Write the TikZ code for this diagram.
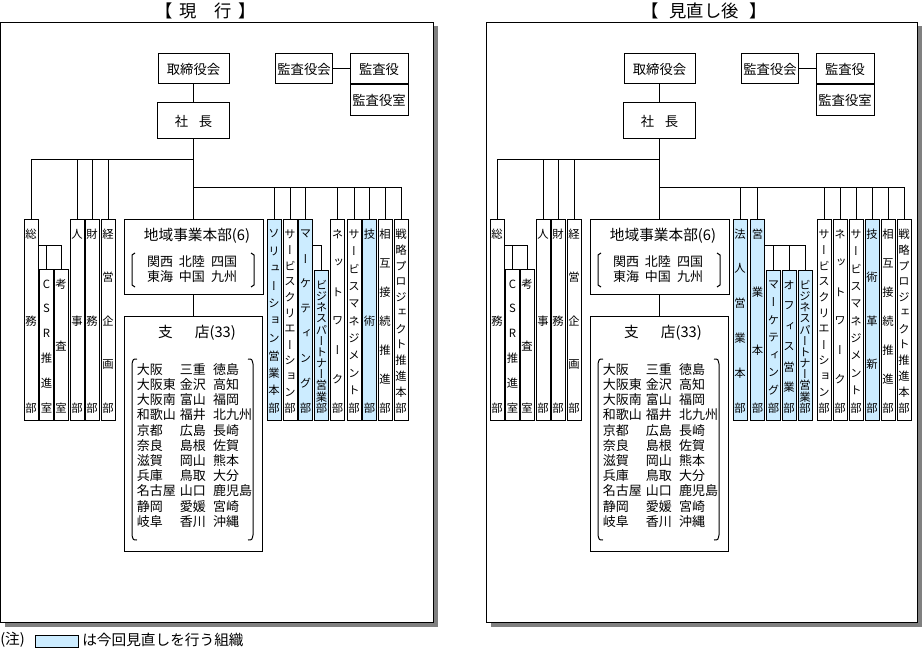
\documentclass[tikz,border=0pt]{standalone}
\usepackage{fontspec}
\newfontfamily\jpfont{Noto Sans CJK JP}
\newfontfamily\tatefont[RawFeature=+vert]{Noto Sans CJK JP}
\usetikzlibrary{positioning,calc,shadows}
\definecolor{revBlue}{HTML}{CCECFF}
\definecolor{shadowGrey}{HTML}{808080}
\tikzset{
  sz/.style 2 args={minimum width=#1*0.75pt, minimum height=#2*0.75pt},
  link/.style={draw=black, line width=0.75pt},
  panel/.style={draw=black, fill=white, line width=0.75pt, inner sep=0pt,
              drop shadow={shadow xshift=3pt, shadow yshift=-3pt, fill=shadowGrey, opacity=1}},
  orgbox/.style={draw=black, fill=white, line width=0.75pt, inner sep=0pt,
              font=\jpfont\fontsize{10}{12}\selectfont},
  tatebox/.style={draw=black, fill=white, line width=0.75pt, inner sep=0pt,
              minimum width=14*0.75pt},
  revbox/.style={tatebox, fill=revBlue},
  tatechar/.style={inner sep=0pt, font=\tatefont\fontsize{8.5}{9}\selectfont},
  title/.style={font=\jpfont\fontsize{13}{15}\selectfont},
  head/.style={inner sep=0pt, font=\jpfont\fontsize{11}{13}\selectfont},
  list/.style={inner sep=0pt, font=\jpfont\fontsize{9.75}{10.65}\selectfont},
  bracket/.style={draw=black, line width=0.75pt},
  note/.style={anchor=west, inner sep=0pt, font=\jpfont\fontsize{11}{13}\selectfont},
}
% vertical box: name, x, top, bottom, style, characters
\newcommand{\tate}[6]{%
  \node[#5, minimum height={(#4-#3)*0.75pt}] (#1) at (#2,{(#3+#4)/2}) {};
  \foreach \c [count=\n] in {#6} {\global\let\tatecount\n}
  \foreach \c [count=\i] in {#6}
    \node[tatechar] (#1-\i) at (#2,{#3+14+(\i-1)*(#4-#3-26)/(\tatecount-1)}) {\c};
}
% part shared by both panels
\newcommand{\honsha}[1]{%
  \node[orgbox, sz={71}{30}] (tor#1) at (193.5,69) {取締役会};
  \node[orgbox, sz={72}{36}] (sha#1) at (193.5,121) {社\hspace{0.8em}長};
  \node[orgbox, sz={57}{30}] (kansakai#1) at (304,69) {監査役会};
  \node[orgbox, sz={58}{30}] (kansayaku#1) at (379,69) {監査役};
  \node[orgbox, sz={58}{31}, anchor=north] (kansashitsu#1) at (kansayaku#1.south) {監査役室};
  \draw[link] (tor#1) -- (sha#1);
  \draw[link] (kansakai#1) -- (kansayaku#1);
  % regional HQ
  \node[orgbox, sz={139}{75}] (chiiki#1) at (193.5,257.5) {};
  \node[head] (chiikiT#1) at (197,236) {地域事業本部(6)};
  \node[list] (chiikiN#1) at (192,270.5) {\begin{tabular}{@{}l@{\hspace{4.5pt}}l@{\hspace{4.5pt}}l@{}}
      関西 & 北陸 & 四国\\ 東海 & 中国 & 九州\end{tabular}};
  \draw[bracket] (135,253) -- (132,255) -- (132,285) -- (135,287);
  \draw[bracket] (251,253) -- (254,255) -- (254,285) -- (251,287);
  % branches
  \node[orgbox, sz={138}{234}] (shiten#1) at (193.5,434) {};
  \node[head] (shitenT#1) at (197,333) {支\hspace{1.5em}店(33)};
  \node[list] (shitenN#1) at (194.5,447) {\begin{tabular}{@{}l@{\hspace{3pt}}l@{\hspace{5.5pt}}l@{}}
      大阪 & 三重 & 徳島\\ 大阪東 & 金沢 & 高知\\ 大阪南 & 富山 & 福岡\\
      和歌山 & 福井 & 北九州\\ 京都 & 広島 & 長崎\\ 奈良 & 島根 & 佐賀\\
      滋賀 & 岡山 & 熊本\\ 兵庫 & 鳥取 & 大分\\ 名古屋 & 山口 & 鹿児島\\
      静岡 & 愛媛 & 宮崎\\ 岐阜 & 香川 & 沖縄\end{tabular}};
  \draw[bracket] (137,359) .. controls (133,359) .. (132,364) -- (132,535) .. controls (133,540) .. (137,540);
  \draw[bracket] (248,359) .. controls (252,359) .. (253,364) -- (253,535) .. controls (252,540) .. (248,540);
  \draw[link] (sha#1) -- (chiiki#1);
  \draw[link] (chiiki#1) -- (shiten#1);
  % staff departments
  \tate{soumu#1}{31}{220}{420}{tatebox}{総,務,部}
  \tate{csr#1}{46.5}{270}{420}{tatebox}{C,S,R,推,進,室}
  \tate{kousa#1}{61}{270}{420}{tatebox}{考,査,室}
  \tate{jinji#1}{77}{220}{420}{tatebox}{人,事,部}
  \tate{zaimu#1}{92}{220}{420}{tatebox}{財,務,部}
  \tate{keiei#1}{108}{220}{420}{tatebox}{経,営,企,画,部}
  \coordinate (bar#1) at (193.5,160);
  \coordinate (bar2#1) at (193.5,188);
  \coordinate (fork#1) at (0,246);
  \draw[link] (soumu#1.north) |- (bar#1);
  \foreach \b in {jinji,zaimu,keiei} \draw[link] (\b#1.north) -- (\b#1.north |- bar#1);
  \draw[link] (soumu#1.east |- fork#1) -| (kousa#1.north);
  \draw[link] (csr#1.north) -- (csr#1.north |- fork#1);
}

\begin{document}
\begin{tikzpicture}[x=0.75pt, y=-0.75pt, font=\jpfont]
  \useasboundingbox (0,0) rectangle (922,649);

  \node[panel, sz={433}{600}, anchor=north west] (panelL) at (0,22) {};
  \node[panel, sz={431}{600}, anchor=north west] (panelR) at (486,22) {};
  \node[title] (titleL) at (206,11) {【\hspace{0.4em}現\hspace{1em}行\hspace{0.4em}】};
  \node[title] (titleR) at (704,11) {【\hspace{0.6em}見直し後\hspace{0.6em}】};

  % current organisation
  \honsha{L}
  \tate{solL}{274}{220}{420}{revbox}{ソ,リ,ュ,ー,シ,ョ,ン,営,業,本,部}
  \tate{screL}{290}{220}{420}{tatebox}{サ,ー,ビ,ス,ク,リ,エ,ー,シ,ョ,ン,部}
  \tate{mktL}{305.5}{220}{420}{revbox}{マ,ー,ケ,テ,ィ,ン,グ,部}
  \tate{bpL}{321.5}{271}{420}{revbox}{ビ,ジ,ネ,ス,パ,ー,ト,ナ,ー,営,業,部}
  \tate{netL}{337.5}{220}{420}{tatebox}{ネ,ッ,ト,ワ,ー,ク,部}
  \tate{smgL}{354}{220}{420}{tatebox}{サ,ー,ビ,ス,マ,ネ,ジ,メ,ン,ト,部}
  \tate{gijL}{369.5}{220}{420}{revbox}{技,術,部}
  \tate{sogoL}{385}{220}{420}{tatebox}{相,互,接,続,推,進,部}
  \tate{senL}{401}{220}{420}{tatebox}{戦,略,プ,ロ,ジ,ェ,ク,ト,推,進,本,部}
  \draw[link] (senL.north) |- (bar2L);
  \foreach \b in {solL,screL,mktL,netL,smgL,gijL,sogoL}
    \draw[link] (\b.north) -- (\b.north |- bar2L);
  \draw[link] (mktL.east |- forkL) -| (bpL.north);

  % after review
  \begin{scope}[shift={(466,0)}]
    \honsha{R}
  \end{scope}
  \tate{houjinR}{740}{220}{420}{revbox}{法,人,営,業,本,部}
  \tate{eigyoR}{757.5}{220}{420}{revbox}{営,業,本,部}
  \tate{mktR}{773.5}{271}{420}{revbox}{マ,ー,ケ,テ,ィ,ン,グ,部}
  \tate{officeR}{789}{271}{420}{revbox}{オ,フ,ィ,ス,営,業,部}
  \tate{bpR}{805}{271}{420}{revbox}{ビ,ジ,ネ,ス,パ,ー,ト,ナ,ー,営,業,部}
  \tate{screR}{824}{220}{420}{tatebox}{サ,ー,ビ,ス,ク,リ,エ,ー,シ,ョ,ン,部}
  \tate{netR}{840}{220}{420}{tatebox}{ネ,ッ,ト,ワ,ー,ク,部}
  \tate{smgR}{856}{220}{420}{tatebox}{サ,ー,ビ,ス,マ,ネ,ジ,メ,ン,ト,部}
  \tate{gijR}{872}{220}{420}{revbox}{技,術,革,新,部}
  \tate{sogoR}{888}{220}{420}{tatebox}{相,互,接,続,推,進,部}
  \tate{senR}{904}{220}{420}{tatebox}{戦,略,プ,ロ,ジ,ェ,ク,ト,推,進,本,部}
  \draw[link] (senR.north) |- (bar2R);
  \foreach \b in {houjinR,eigyoR,screR,netR,smgR,gijR,sogoR}
    \draw[link] (\b.north) -- (\b.north |- bar2R);
  \draw[link] (eigyoR.east |- forkR) -| (bpR.north);
  \foreach \b in {mktR,officeR}
    \draw[link] (\b.north) -- (\b.north |- forkR);

  % legend
  \node[note] (chuMark) at (0,640) {(注)};
  \node[draw=black, fill=revBlue, line width=0.75pt, sz={43}{12}] (chuBox) at (56.5,641) {};
  \node[note] (chuText) at (82,640) {は今回見直しを行う組織};
\end{tikzpicture}
\end{document}
